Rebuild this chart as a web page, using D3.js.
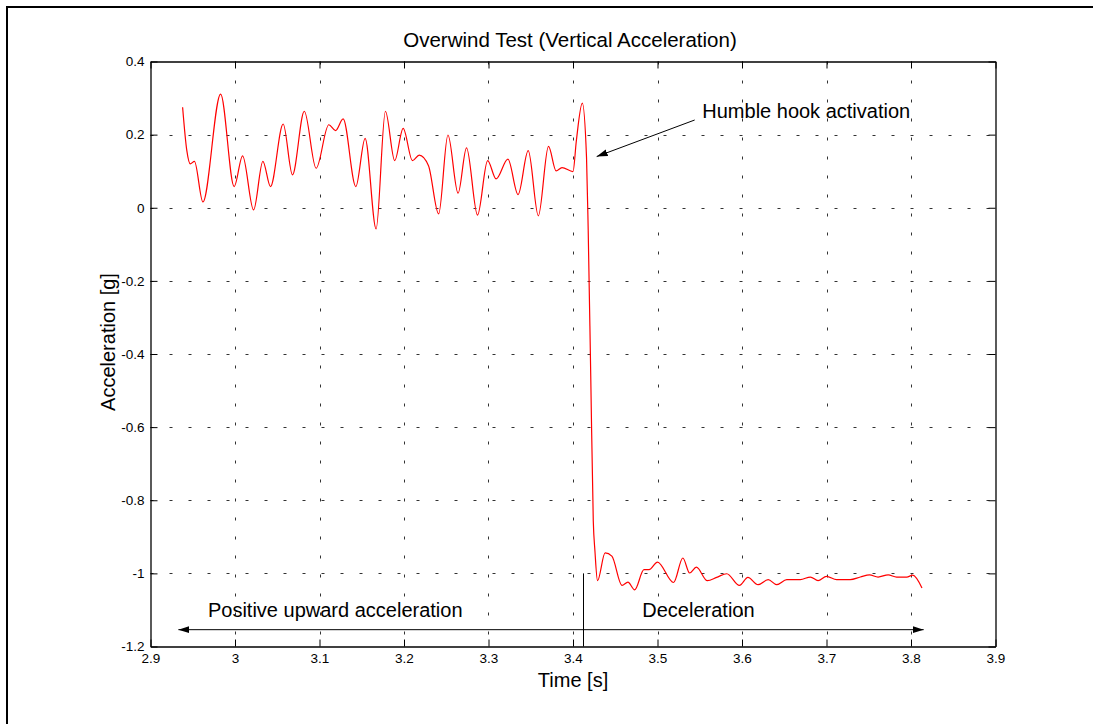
<!DOCTYPE html>
<html>
<head>
<meta charset="utf-8">
<script src="https://cdn.jsdelivr.net/npm/d3@7"></script>
<style>
  body { margin: 0; background: #fff; }
  svg { display: block; font-family: "Liberation Sans", Arial, Helvetica, sans-serif; }
</style>
</head>
<body>
<svg id="chart"></svg>
<script>
const time = [2.938, 2.943, 2.947, 2.952, 2.962, 2.983, 2.999, 3.009, 3.022, 3.033,
  3.042, 3.057, 3.068, 3.082, 3.096, 3.111, 3.119, 3.128, 3.143, 3.154,
  3.167, 3.178, 3.189, 3.199, 3.210, 3.218, 3.229, 3.241, 3.252, 3.264,
  3.274, 3.287, 3.299, 3.309, 3.323, 3.335, 3.347, 3.359, 3.371, 3.380,
  3.387, 3.400, 3.404, 3.411, 3.416, 3.418, 3.421, 3.424, 3.426, 3.429,
  3.438, 3.446, 3.458, 3.465, 3.473, 3.484, 3.490, 3.500, 3.519, 3.530,
  3.538, 3.546, 3.559, 3.570, 3.582, 3.597, 3.607, 3.619, 3.631, 3.641,
  3.653, 3.669, 3.681, 3.690, 3.700, 3.712, 3.728, 3.740, 3.751, 3.761,
  3.773, 3.783, 3.795, 3.802, 3.813]
const accel = [0.275, 0.156, 0.120, 0.127, 0.016, 0.311, 0.058, 0.142, -0.006, 0.127,
  0.058, 0.229, 0.090, 0.264, 0.108, 0.227, 0.211, 0.243, 0.058, 0.190,
  -0.058, 0.264, 0.129, 0.217, 0.129, 0.144, 0.115, -0.017, 0.199, 0.040,
  0.164, -0.020, 0.129, 0.079, 0.133, 0.036, 0.156, -0.022, 0.168, 0.101,
  0.110, 0.099, 0.184, 0.286, 0.138, -0.063, -0.460, -0.857, -0.940, -1.020,
  -0.944, -0.953, -1.033, -1.024, -1.045, -0.990, -0.990, -0.969, -1.025, -0.958,
  -0.999, -0.983, -1.020, -1.011, -1.001, -1.033, -1.011, -1.031, -1.017, -1.031,
  -1.017, -1.017, -1.010, -1.020, -1.008, -1.017, -1.017, -1.010, -1.004, -1.010,
  -1.004, -1.010, -1.010, -1.005, -1.040]

const xTicks = [2.9, 3.0, 3.1, 3.2, 3.3, 3.4, 3.5, 3.6, 3.7, 3.8, 3.9]
const yTicks = [-1.2, -1.0, -0.8, -0.6, -0.4, -0.2, 0, 0.2, 0.4]
const xTickLabels = ["2.9", "3", "3.1", "3.2", "3.3", "3.4", "3.5", "3.6", "3.7", "3.8", "3.9"]
const yTickLabels = ["-1.2", "-1", "-0.8", "-0.6", "-0.4", "-0.2", "0", "0.2", "0.4"]

// annotations in data units
const hookText = { t: 3.553, v: 0.245, label: "Humble hook activation" }
const hookArrow = { t0: 3.544, v0: 0.240, t1: 3.428, v1: 0.140 }
const spanArrow = { t0: 2.933, t1: 3.815, v: -1.154 }
const divider = { t: 3.412, v0: -1.0, v1: -1.2 }
const spanLabels = [
  { t: 2.968, v: -1.118, label: "Positive upward acceleration" },
  { t: 3.482, v: -1.118, label: "Deceleration" }
]

const W = 1093, H = 724
const svg = d3.select("#chart")
    .attr("width", W)
    .attr("height", H)

svg.append("rect")
    .attr("x", 7).attr("y", 7)
    .attr("width", 1300).attr("height", 900)
    .attr("fill", "none")
    .attr("stroke", "#000")
    .attr("stroke-width", 2)

const x = d3.scaleLinear().domain([2.9, 3.9]).range([150.5, 995.5])
const y = d3.scaleLinear().domain([-1.2, 0.4]).range([646.5, 61.5])

// grid
const grid = svg.append("g")
    .attr("stroke", "#333")
    .attr("stroke-width", 1)
    .attr("stroke-dasharray", "3,16")
grid.selectAll(".vg").data(xTicks.slice(1, -1)).join("line")
    .attr("x1", d => Math.round(x(d)) + 0.5).attr("x2", d => Math.round(x(d)) + 0.5)
    .attr("y1", y(0.4)).attr("y2", y(-1.2))
grid.selectAll(".hg").data(yTicks.slice(1, -1)).join("line")
    .attr("y1", d => Math.round(y(d)) + 0.5).attr("y2", d => Math.round(y(d)) + 0.5)
    .attr("x1", x(2.9)).attr("x2", x(3.9))

// axes with inward ticks on all four sides
const fmtX = d => xTickLabels[xTicks.indexOf(d)]
const fmtY = d => yTickLabels[yTicks.indexOf(d)]

const axB = svg.append("g").attr("transform", `translate(0,${y(-1.2)})`)
    .call(d3.axisBottom(x).tickValues(xTicks).tickFormat(fmtX).tickSizeInner(-7).tickSizeOuter(0).tickPadding(7))
const axT = svg.append("g").attr("transform", `translate(0,${y(0.4)})`)
    .call(d3.axisTop(x).tickValues(xTicks).tickFormat("").tickSizeInner(-7).tickSizeOuter(0))
const axL = svg.append("g").attr("transform", `translate(${x(2.9)},0)`)
    .call(d3.axisLeft(y).tickValues(yTicks).tickFormat(fmtY).tickSizeInner(-7).tickSizeOuter(0).tickPadding(6))
const axR = svg.append("g").attr("transform", `translate(${x(3.9)},0)`)
    .call(d3.axisRight(y).tickValues(yTicks).tickFormat("").tickSizeInner(-7).tickSizeOuter(0))

for (const ax of [axB, axT, axL, axR]) {
    ax.select(".domain").attr("stroke", "#000").attr("stroke-width", 1.3)
    ax.selectAll(".tick line").attr("stroke", "#000")
    ax.selectAll("text")
        .attr("font-family", "'Liberation Sans', Arial, sans-serif")
        .attr("font-size", 13.5)
        .attr("fill", "#000")
}

// trace
const pts = time.map((t, i) => [t, accel[i]])
svg.append("path")
    .datum(pts)
    .attr("fill", "none")
    .attr("stroke", "#ff0000")
    .attr("stroke-width", 1.2)
    .attr("d", d3.line().x(d => x(d[0])).y(d => y(d[1])).curve(d3.curveMonotoneX))

// arrow heads
const defs = svg.append("defs")
defs.append("marker")
    .attr("id", "head")
    .attr("markerUnits", "userSpaceOnUse")
    .attr("viewBox", "0 -4 11 8")
    .attr("refX", 11).attr("refY", 0)
    .attr("markerWidth", 11).attr("markerHeight", 8)
    .attr("orient", "auto-start-reverse")
    .append("path")
    .attr("d", "M0,-3.5L11,0L0,3.5Z")
    .attr("fill", "#000")

svg.append("line")
    .attr("x1", x(hookArrow.t0)).attr("y1", y(hookArrow.v0))
    .attr("x2", x(hookArrow.t1)).attr("y2", y(hookArrow.v1))
    .attr("stroke", "#000").attr("stroke-width", 1)
    .attr("marker-end", "url(#head)")

svg.append("line")
    .attr("x1", x(spanArrow.t0)).attr("y1", y(spanArrow.v))
    .attr("x2", x(spanArrow.t1)).attr("y2", y(spanArrow.v))
    .attr("stroke", "#000").attr("stroke-width", 1)
    .attr("marker-start", "url(#head)")
    .attr("marker-end", "url(#head)")

svg.append("line")
    .attr("x1", Math.round(x(divider.t)) + 0.5).attr("x2", Math.round(x(divider.t)) + 0.5)
    .attr("y1", y(divider.v0)).attr("y2", y(divider.v1))
    .attr("stroke", "#000").attr("stroke-width", 1)

// texts
svg.append("text")
    .attr("x", x(hookText.t)).attr("y", y(hookText.v))
    .attr("font-size", 20)
    .text(hookText.label)

svg.selectAll(".span-label").data(spanLabels).join("text")
    .attr("x", d => x(d.t)).attr("y", d => y(d.v))
    .attr("font-size", 20)
    .text(d => d.label)

svg.append("text")
    .attr("x", 570).attr("y", 46.5)
    .attr("text-anchor", "middle")
    .attr("font-size", 20.5)
    .text("Overwind Test (Vertical Acceleration)")

svg.append("text")
    .attr("x", 573).attr("y", 687)
    .attr("text-anchor", "middle")
    .attr("font-size", 20)
    .text("Time [s]")

svg.append("text")
    .attr("transform", "translate(115,342) rotate(-90)")
    .attr("text-anchor", "middle")
    .attr("font-size", 20)
    .text("Acceleration [g]")
</script>
</body>
</html>
